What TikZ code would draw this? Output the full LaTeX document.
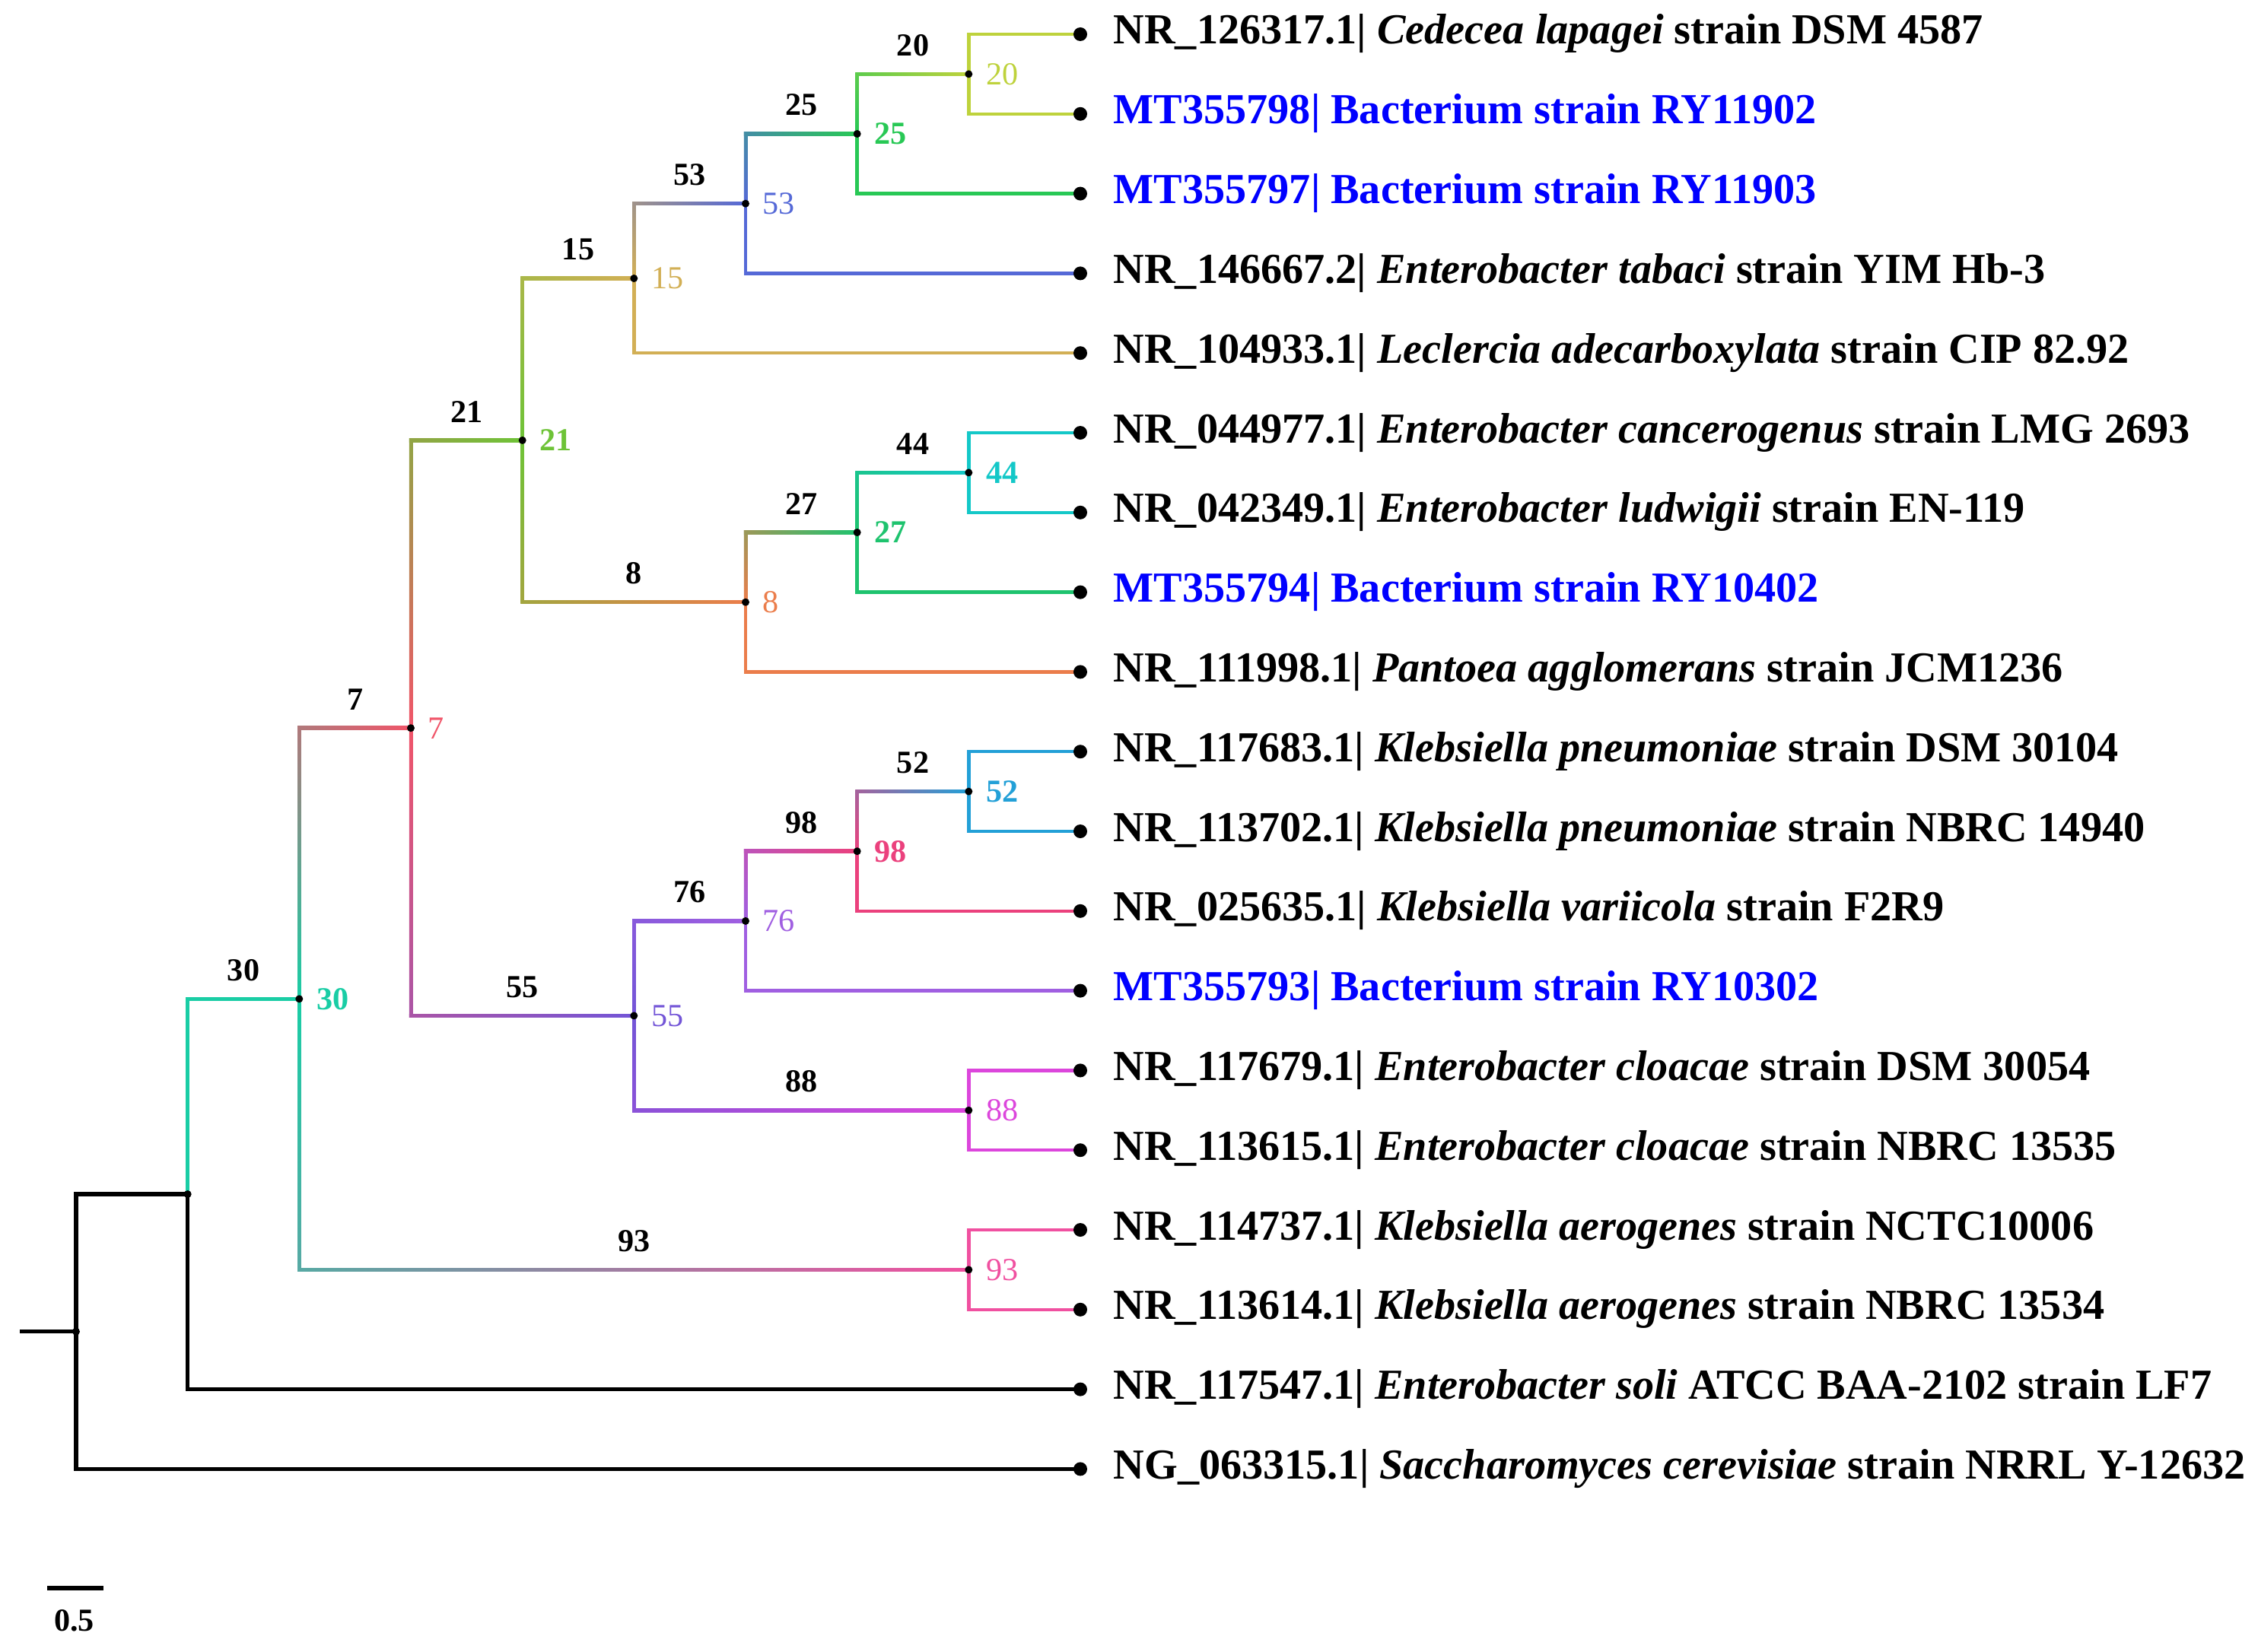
\documentclass[tikz,border=0pt]{standalone}
\usepackage{fontspec}
\setmainfont{Liberation Serif}
\usepackage{tikz}
\usetikzlibrary{calc}

\definecolor{c20}{RGB}{190,210,60}
\definecolor{c25}{RGB}{40,200,85}
\definecolor{c53}{RGB}{85,105,215}
\definecolor{c15}{RGB}{210,175,85}
\definecolor{c21}{RGB}{110,195,55}
\definecolor{c44}{RGB}{20,200,200}
\definecolor{c27}{RGB}{30,195,110}
\definecolor{c8}{RGB}{235,125,75}
\definecolor{c7}{RGB}{240,85,105}
\definecolor{c52}{RGB}{35,160,215}
\definecolor{c98}{RGB}{235,65,125}
\definecolor{c76}{RGB}{160,95,225}
\definecolor{c55}{RGB}{115,85,215}
\definecolor{c88}{RGB}{220,70,220}
\definecolor{c93}{RGB}{240,80,160}
\definecolor{c30}{RGB}{25,205,165}

\tikzstyle{edge}=[line width=0.045cm]
\tikzstyle{outedge}=[line width=0.055cm,black]
\tikzstyle{taxon}=[anchor=base west,inner sep=0pt,font=\fontsize{16}{19}\selectfont\bfseries]
\tikzstyle{newtaxon}=[taxon,text=blue]
\tikzstyle{boot}=[inner sep=0pt,font=\fontsize{12}{14}\selectfont\bfseries]

\begin{document}
\begin{tikzpicture}
    \useasboundingbox (0,0) rectangle (29.68,-21.71);

    \def\hw{0.0225};

    % leaves
    \foreach \i in {1,...,19}
        \coordinate (l\i) at (14.20, {-0.45-1.048*(\i-1)});

    % inner nodes
    \foreach \x/\y/\name in {1.000/17.507/root, 2.467/15.700/nA, 3.933/13.133/n30,
                             5.400/9.572/n7, 6.867/5.789/n21, 8.333/3.660/n15,
                             9.800/2.677/n53, 11.267/1.760/n25, 12.733/0.974/n20,
                             9.800/7.917/n8, 11.267/7.000/n27, 12.733/6.214/n44,
                             8.333/13.354/n55, 9.800/12.109/n76, 11.267/11.192/n98,
                             12.733/10.406/n52, 12.733/14.598/n88, 12.733/16.694/n93}
        \coordinate (\name) at (\x,-\y);
    \coordinate (stub) at (0.26,-17.507);

    % branches to a child above the parent
    \foreach \p/\c/\cp/\cc/\mix in {n25/n20/c25/c20/35, n53/n25/c53/c25/38, n15/n53/c15/c53/40,
                                    n21/n15/c21/c15/59, n7/n21/c7/c21/72, n30/n7/c30/c7/70,
                                    n27/n44/c27/c44/35, n8/n27/c8/c27/38, n98/n52/c98/c52/35,
                                    n76/n98/c76/c98/38, n55/n76/c55/c76/46}
    {
        \shade[bottom color=\cp, top color=\cc!\mix!\cp] ($(\p)+(-\hw,0)$) rectangle ($(\p|-\c)+(\hw,\hw)$);
        \shade[left color=\cc!\mix!\cp, right color=\cc] ($(\p|-\c)+(-\hw,\hw)$) rectangle ($(\c)+(0,-\hw)$);
    }

    % branches to a child below the parent
    \foreach \p/\c/\cp/\cc/\mix in {n21/n8/c21/c8/42, n7/n55/c7/c55/56,
                                    n55/n88/c55/c88/22, n30/n93/c30/c93/29}
    {
        \shade[top color=\cp, bottom color=\cc!\mix!\cp] ($(\p)+(-\hw,0)$) rectangle ($(\p|-\c)+(\hw,-\hw)$);
        \shade[left color=\cc!\mix!\cp, right color=\cc] ($(\p|-\c)+(-\hw,\hw)$) rectangle ($(\c)+(0,-\hw)$);
    }

    \draw[edge, c30] (nA) |- (n30);

    % terminal branches
    \foreach \p/\l/\cp in {n20/l1/c20, n20/l2/c20, n25/l3/c25, n53/l4/c53, n15/l5/c15,
                           n44/l6/c44, n44/l7/c44, n27/l8/c27, n8/l9/c8,
                           n52/l10/c52, n52/l11/c52, n98/l12/c98, n76/l13/c76,
                           n88/l14/c88, n88/l15/c88, n93/l16/c93, n93/l17/c93}
        \draw[edge, \cp] (\p) |- (\l);

    \draw[outedge] (stub) -- (root);
    \draw[outedge] (root) |- (nA);
    \draw[outedge] (root) |- (l19);
    \draw[outedge] (nA) |- (l18);

    % bootstrap values
    \foreach \p/\c/\cc/\val/\wt in {n25/n20/c20/20/\mdseries, n53/n25/c25/25/\bfseries,
                                    n15/n53/c53/53/\mdseries, n21/n15/c15/15/\mdseries,
                                    n7/n21/c21/21/\bfseries, n30/n7/c7/7/\mdseries,
                                    n27/n44/c44/44/\bfseries, n8/n27/c27/27/\bfseries,
                                    n21/n8/c8/8/\mdseries, n98/n52/c52/52/\bfseries,
                                    n76/n98/c98/98/\bfseries, n55/n76/c76/76/\mdseries,
                                    n7/n55/c55/55/\mdseries, n55/n88/c88/88/\mdseries,
                                    n30/n93/c93/93/\mdseries, nA/n30/c30/30/\bfseries}
    {
        \path (\p|-\c) -- node[boot, above=0.23cm] (top\c) {\val} (\c);
        \node[boot, text=\cc, anchor=west] (side\c) at ([xshift=0.22cm]\c) {\wt\val};
    }

    % dots
    \foreach \i in {1,...,19}
        \fill (l\i) circle (0.09);
    \foreach \name in {root, nA, n30, n7, n21, n15, n53, n25, n20, n8, n27, n44,
                       n55, n76, n98, n52, n88, n93}
        \fill (\name) circle (0.05);

    % taxa
    \foreach \i/\txt in {1/{NR\_126317.1| \textit{Cedecea lapagei} strain DSM 4587},
                         4/{NR\_146667.2| \textit{Enterobacter tabaci} strain YIM Hb-3},
                         5/{NR\_104933.1| \textit{Leclercia adecarboxylata} strain CIP 82.92},
                         6/{NR\_044977.1| \textit{Enterobacter cancerogenus} strain LMG 2693},
                         7/{NR\_042349.1| \textit{Enterobacter ludwigii} strain EN-119},
                         9/{NR\_111998.1| \textit{Pantoea agglomerans} strain JCM1236},
                         10/{NR\_117683.1| \textit{Klebsiella pneumoniae} strain DSM 30104},
                         11/{NR\_113702.1| \textit{Klebsiella pneumoniae} strain NBRC 14940},
                         12/{NR\_025635.1| \textit{Klebsiella variicola} strain F2R9},
                         14/{NR\_117679.1| \textit{Enterobacter cloacae} strain DSM 30054},
                         15/{NR\_113615.1| \textit{Enterobacter cloacae} strain NBRC 13535},
                         16/{NR\_114737.1| \textit{Klebsiella aerogenes} strain NCTC10006},
                         17/{NR\_113614.1| \textit{Klebsiella aerogenes} strain NBRC 13534},
                         18/{NR\_117547.1| \textit{Enterobacter soli} ATCC BAA-2102 strain LF7},
                         19/{NG\_063315.1| \textit{Saccharomyces cerevisiae} strain NRRL Y-12632}}
        \node[taxon] (t\i) at ([xshift=0.43cm, yshift=-0.13cm]l\i) {\txt};

    \foreach \i/\txt in {2/{MT355798| Bacterium strain RY11902},
                         3/{MT355797| Bacterium strain RY11903},
                         8/{MT355794| Bacterium strain RY10402},
                         13/{MT355793| Bacterium strain RY10302}}
        \node[newtaxon] (t\i) at ([xshift=0.43cm, yshift=-0.13cm]l\i) {\txt};

    % scale bar
    \coordinate (sbl) at (0.62,-20.88);
    \coordinate (sbr) at (1.36,-20.88);
    \draw[line width=0.06cm] (sbl) -- (sbr);
    \node[boot] (sbtext) at (0.975,-21.31) {0.5};

\end{tikzpicture}
\end{document}
